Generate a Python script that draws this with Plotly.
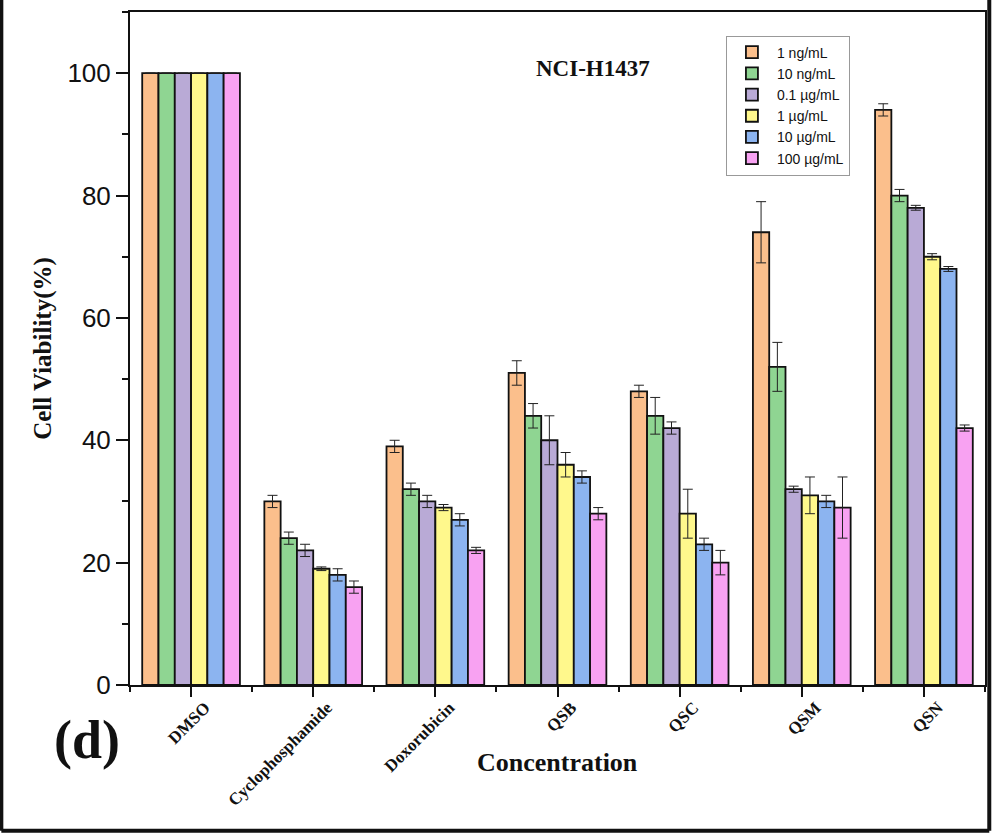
import plotly.graph_objects as go

# Treatment groups along the x axis
categories = ["DMSO", "Cyclophosphamide", "Doxorubicin", "QSB", "QSC", "QSM", "QSN"]

# Concentration series (legend labels)
doses = ["1 ng/mL", "10 ng/mL", "0.1 µg/mL", "1 µg/mL", "10 µg/mL", "100 µg/mL"]

# Mean cell viability (%) for each concentration, one value per treatment
viability_1ng = [100, 30, 39, 51, 48, 74, 94]
viability_10ng = [100, 24, 32, 44, 44, 52, 80]
viability_01ug = [100, 22, 30, 40, 42, 32, 78]
viability_1ug = [100, 19, 29, 36, 28, 31, 70]
viability_10ug = [100, 18, 27, 34, 23, 30, 68]
viability_100ug = [100, 16, 22, 28, 20, 29, 42]

# Standard deviations
sd_1ng = [0, 1, 1, 2, 1, 5, 1]
sd_10ng = [0, 1, 1, 2, 3, 4, 1]
sd_01ug = [0, 1, 1, 4, 1, 0.5, 0.4]
sd_1ug = [0, 0.3, 0.5, 2, 4, 3, 0.5]
sd_10ug = [0, 1, 1, 1, 1, 1, 0.4]
sd_100ug = [0, 1, 0.5, 1, 2, 5, 0.5]

series = [viability_1ng, viability_10ng, viability_01ug,
          viability_1ug, viability_10ug, viability_100ug]
errors = [sd_1ng, sd_10ng, sd_01ug, sd_1ug, sd_10ug, sd_100ug]
colors = ["#FBBF8C", "#8FD592", "#B9AAD6", "#FFF88C", "#8CB4F0", "#F8A2F2"]

x_pos = list(range(len(categories)))

fig = go.Figure()
for name, vals, err, col in zip(doses, series, errors, colors):
    fig.add_trace(go.Bar(
        x=x_pos, y=vals, name=name,
        marker=dict(color=col, line=dict(color="#111111", width=1.8)),
        error_y=dict(type="data", array=err, visible=True,
                     color="#222222", thickness=1, width=5),
    ))

serif = "Liberation Serif, Times New Roman, serif"
sans = "Liberation Sans, Arial, sans-serif"

fig.update_layout(
    width=1002, height=839,
    margin=dict(l=130, r=17, t=10, b=154),
    paper_bgcolor="white", plot_bgcolor="white",
    barmode="group", bargap=0.2, bargroupgap=0,
    showlegend=True,
    legend=dict(
        x=0.697, y=0.965, xanchor="left", yanchor="top",
        bgcolor="white", bordercolor="#999999", borderwidth=1,
        font=dict(family=sans, size=14, color="#111"),
        tracegroupgap=0, itemwidth=40,
    ),
    xaxis=dict(
        range=[-0.5, 6.5],
        tickmode="array", tickvals=x_pos, ticktext=categories,
        tickangle=-45,
        tickfont=dict(family=serif, size=17, color="#111", weight="bold"),
        ticklabelshift=14, ticklabelstandoff=-6,
        ticks="outside", ticklen=10, tickwidth=2, tickcolor="#111",
        minor=dict(tickmode="linear", tick0=0.5, dtick=1, ticks="outside",
                   ticklen=5, tickwidth=2, tickcolor="#111"),
        showline=True, linecolor="#111", linewidth=2, mirror=True,
        showgrid=False, zeroline=False,
    ),
    yaxis=dict(
        range=[0, 110],
        tickmode="linear", tick0=0, dtick=20,
        tickfont=dict(family=sans, size=26, color="#111"),
        ticks="outside", ticklen=12, tickwidth=2, tickcolor="#111",
        minor=dict(tickmode="linear", tick0=0, dtick=10, ticks="outside",
                   ticklen=6, tickwidth=2, tickcolor="#111"),
        showline=True, linecolor="#111", linewidth=2, mirror=True,
        showgrid=False, zeroline=False,
        title=dict(text="Cell Viability(%)",
                   font=dict(family=serif, size=25, color="#111", weight="bold"),
                   standoff=9),
    ),
    annotations=[
        dict(text="NCI-H1437", x=0.542, y=0.9156, xref="paper", yref="paper",
             xanchor="center", yanchor="middle", showarrow=False,
             font=dict(family=serif, size=23, color="#111", weight="bold")),
        dict(text="Concentration", x=0.5, y=-0.1156, xref="paper", yref="paper",
             xanchor="center", yanchor="middle", showarrow=False,
             font=dict(family=serif, size=26, color="#111", weight="bold")),
        dict(text="(d)", x=-0.05, y=-0.082, xref="paper", yref="paper",
             xanchor="center", yanchor="middle", showarrow=False,
             font=dict(family=serif, size=54, color="#111", weight="bold")),
    ],
    shapes=[
        # outer frame around the figure panel
        dict(type="line", xref="paper", yref="paper", x0=-0.1505, x1=-0.1505,
             y0=1.02, y1=-0.2165, line=dict(color="#111", width=4)),
        dict(type="line", xref="paper", yref="paper", x0=-0.1505, x1=1.005,
             y0=-0.2165, y1=-0.2165, line=dict(color="#111", width=4)),
        dict(type="line", xref="paper", yref="paper", x0=1.005, x1=1.005,
             y0=1.02, y1=-0.2165, line=dict(color="#111", width=4)),
    ],
)

fig.write_html("out.html")
